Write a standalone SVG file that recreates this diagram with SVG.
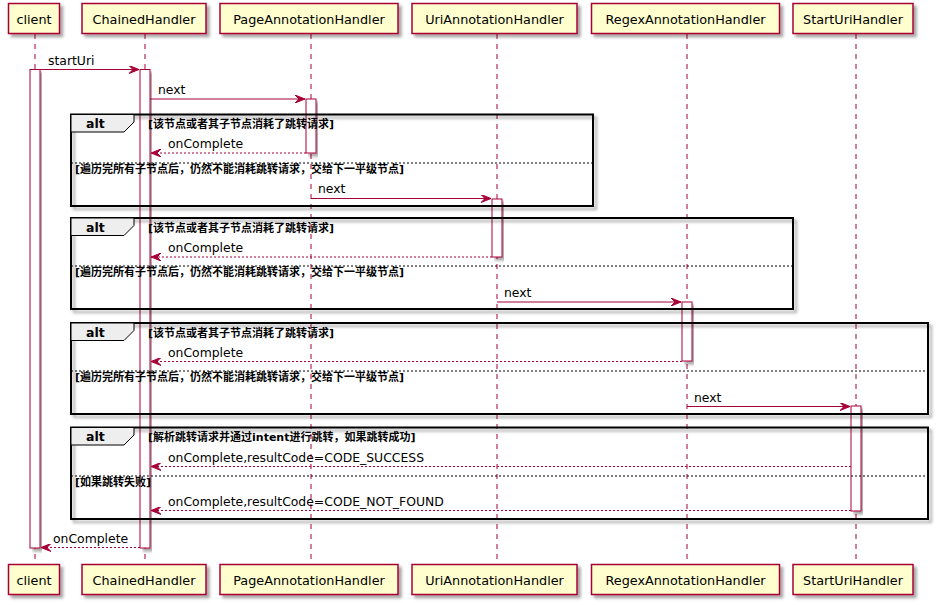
<svg xmlns="http://www.w3.org/2000/svg" width="938" height="605" viewBox="0 0 938 605">
<defs>
<filter id="sh" x="-10%" y="-10%" width="130%" height="140%">
<feGaussianBlur in="SourceAlpha" stdDeviation="1.5"/>
<feOffset dx="3" dy="3" result="b"/>
<feFlood flood-color="#000" flood-opacity="0.35"/>
<feComposite in2="b" operator="in"/>
<feMerge><feMergeNode/><feMergeNode in="SourceGraphic"/></feMerge>
</filter>
<marker id="ah" viewBox="0 0 10 8" refX="10" refY="4" markerWidth="10" markerHeight="8" markerUnits="userSpaceOnUse" orient="auto">
<polygon points="0,0 10,4 0,8 4,4" fill="#A80036" stroke="#A80036" stroke-width="1"/>
</marker>
</defs>
<style>
.pbox{fill:#FEFECE;stroke:#A80036;stroke-width:1.5;filter:url(#sh)}
.pname{font-family:"DejaVu Sans",sans-serif;font-size:12.8px;fill:#000;text-anchor:middle}
.life{stroke:#A80036;stroke-width:1;stroke-dasharray:5,5}
.act{fill:#fff;stroke:#A80036;stroke-width:1;filter:url(#sh)}
.msg{stroke:#A80036;stroke-width:1;fill:none;marker-end:url(#ah)}
.ret{stroke:#A80036;stroke-width:1;fill:none;stroke-dasharray:2,2;marker-end:url(#ah)}
.ml{font-family:"DejaVu Sans",sans-serif;font-size:12.4px;fill:#000}
.frame{fill:none;stroke:#000;stroke-width:2;filter:url(#sh)}
.tab{fill:#EEEEEE;stroke:#000;stroke-width:1}
.altl{font-family:"DejaVu Sans",sans-serif;font-size:12.5px;font-weight:bold;fill:#000}
.cond{font-family:"DejaVu Sans","Noto Sans CJK SC",sans-serif;font-size:11px;font-weight:bold;fill:#000}
.sep{stroke:#000;stroke-width:1;stroke-dasharray:2,2}
</style>
<g id="lifelines">
<line class="life" x1="35" y1="34" x2="35" y2="564"/>
<line class="life" x1="145" y1="34" x2="145" y2="564"/>
<line class="life" x1="311" y1="34" x2="311" y2="564"/>
<line class="life" x1="497" y1="34" x2="497" y2="564"/>
<line class="life" x1="687" y1="34" x2="687" y2="564"/>
<line class="life" x1="856" y1="34" x2="856" y2="564"/>
</g>
<g id="activations">
<rect id="act-client" class="act" x="30" y="69.5" width="10" height="478.5"/>
<rect id="act-chained" class="act" x="140" y="69.5" width="10" height="478.5"/>
<rect id="act-page" class="act" x="306" y="99" width="10" height="54"/>
<rect id="act-uri" class="act" x="492" y="199" width="10" height="58"/>
<rect id="act-regex" class="act" x="682" y="302" width="10" height="59"/>
<rect id="act-start" class="act" x="851" y="406" width="10" height="105"/>
</g>
<g id="alt1">
<rect class="frame" x="71" y="114.5" width="522" height="91.5"/>
<path class="tab" d="M71,114.5 H134 V122 L124,132 H71 Z"/>
<text class="altl" x="86" y="128">alt</text>
<text class="cond" x="148" y="128">[该节点或者其子节点消耗了跳转请求]</text>
<line class="sep" x1="71" y1="163" x2="593" y2="163"/>
<text class="cond" x="75" y="173">[遍历完所有子节点后，仍然不能消耗跳转请求，交给下一平级节点]</text>
</g>
<g id="alt2">
<rect class="frame" x="71" y="218" width="722" height="91"/>
<path class="tab" d="M71,218 H134 V225.5 L124,235.5 H71 Z"/>
<text class="altl" x="86" y="232">alt</text>
<text class="cond" x="148" y="232">[该节点或者其子节点消耗了跳转请求]</text>
<line class="sep" x1="71" y1="266" x2="793" y2="266"/>
<text class="cond" x="75" y="276">[遍历完所有子节点后，仍然不能消耗跳转请求，交给下一平级节点]</text>
</g>
<g id="alt3">
<rect class="frame" x="71" y="323" width="857" height="91"/>
<path class="tab" d="M71,323 H134 V330.5 L124,340.5 H71 Z"/>
<text class="altl" x="86" y="337">alt</text>
<text class="cond" x="148" y="337">[该节点或者其子节点消耗了跳转请求]</text>
<line class="sep" x1="71" y1="371" x2="928" y2="371"/>
<text class="cond" x="75" y="381">[遍历完所有子节点后，仍然不能消耗跳转请求，交给下一平级节点]</text>
</g>
<g id="alt4">
<rect class="frame" x="71" y="427.5" width="857" height="91.5"/>
<path class="tab" d="M71,427.5 H134 V435 L124,445 H71 Z"/>
<text class="altl" x="86" y="441">alt</text>
<text class="cond" x="148" y="441">[解析跳转请求并通过intent进行跳转，如果跳转成功]</text>
<line class="sep" x1="71" y1="476" x2="928" y2="476"/>
<text class="cond" x="75" y="486">[如果跳转失败]</text>
</g>
<g id="connectors">
<line class="msg" x1="40" y1="69.5" x2="139" y2="69.5"/>
<text class="ml" x="48" y="65">startUri</text>
<line class="msg" x1="150" y1="99" x2="305" y2="99"/>
<text class="ml" x="158" y="94">next</text>
<line class="ret" x1="306" y1="153" x2="151" y2="153"/>
<text class="ml" x="168" y="148">onComplete</text>
<line class="msg" x1="311" y1="198.5" x2="491" y2="198.5"/>
<text class="ml" x="318" y="193">next</text>
<line class="ret" x1="492" y1="257" x2="151" y2="257"/>
<text class="ml" x="168" y="252">onComplete</text>
<line class="msg" x1="497" y1="302" x2="681" y2="302"/>
<text class="ml" x="504" y="297">next</text>
<line class="ret" x1="682" y1="361.5" x2="151" y2="361.5"/>
<text class="ml" x="168" y="357">onComplete</text>
<line class="msg" x1="687" y1="406.5" x2="850" y2="406.5"/>
<text class="ml" x="694" y="402">next</text>
<line class="ret" x1="851" y1="466.5" x2="151" y2="466.5"/>
<text class="ml" x="168" y="462">onComplete,resultCode=CODE_SUCCESS</text>
<line class="ret" x1="851" y1="510.5" x2="151" y2="510.5"/>
<text class="ml" x="168" y="506">onComplete,resultCode=CODE_NOT_FOUND</text>
<line class="ret" x1="140" y1="547.5" x2="41" y2="547.5"/>
<text class="ml" x="53" y="543">onComplete</text>
</g>
<g id="client">
<rect class="pbox" x="8.5" y="3.5" width="51" height="30"/>
<text class="pname" x="34" y="24">client</text>
<rect class="pbox" x="8.5" y="564.5" width="51" height="30"/>
<text class="pname" x="34" y="585">client</text>
</g>
<g id="chained">
<rect class="pbox" x="82" y="3.5" width="124" height="30"/>
<text class="pname" x="144" y="24">ChainedHandler</text>
<rect class="pbox" x="82" y="564.5" width="124" height="30"/>
<text class="pname" x="144" y="585">ChainedHandler</text>
</g>
<g id="page">
<rect class="pbox" x="220" y="3.5" width="178" height="30"/>
<text class="pname" x="309" y="24">PageAnnotationHandler</text>
<rect class="pbox" x="220" y="564.5" width="178" height="30"/>
<text class="pname" x="309" y="585">PageAnnotationHandler</text>
</g>
<g id="uri">
<rect class="pbox" x="412" y="3.5" width="165" height="30"/>
<text class="pname" x="494.5" y="24">UriAnnotationHandler</text>
<rect class="pbox" x="412" y="564.5" width="165" height="30"/>
<text class="pname" x="494.5" y="585">UriAnnotationHandler</text>
</g>
<g id="regex">
<rect class="pbox" x="591.5" y="3.5" width="188" height="30"/>
<text class="pname" x="685.5" y="24">RegexAnnotationHandler</text>
<rect class="pbox" x="591.5" y="564.5" width="188" height="30"/>
<text class="pname" x="685.5" y="585">RegexAnnotationHandler</text>
</g>
<g id="starturi">
<rect class="pbox" x="793" y="3.5" width="120" height="30"/>
<text class="pname" x="853" y="24">StartUriHandler</text>
<rect class="pbox" x="793" y="564.5" width="120" height="30"/>
<text class="pname" x="853" y="585">StartUriHandler</text>
</g>
</svg>
